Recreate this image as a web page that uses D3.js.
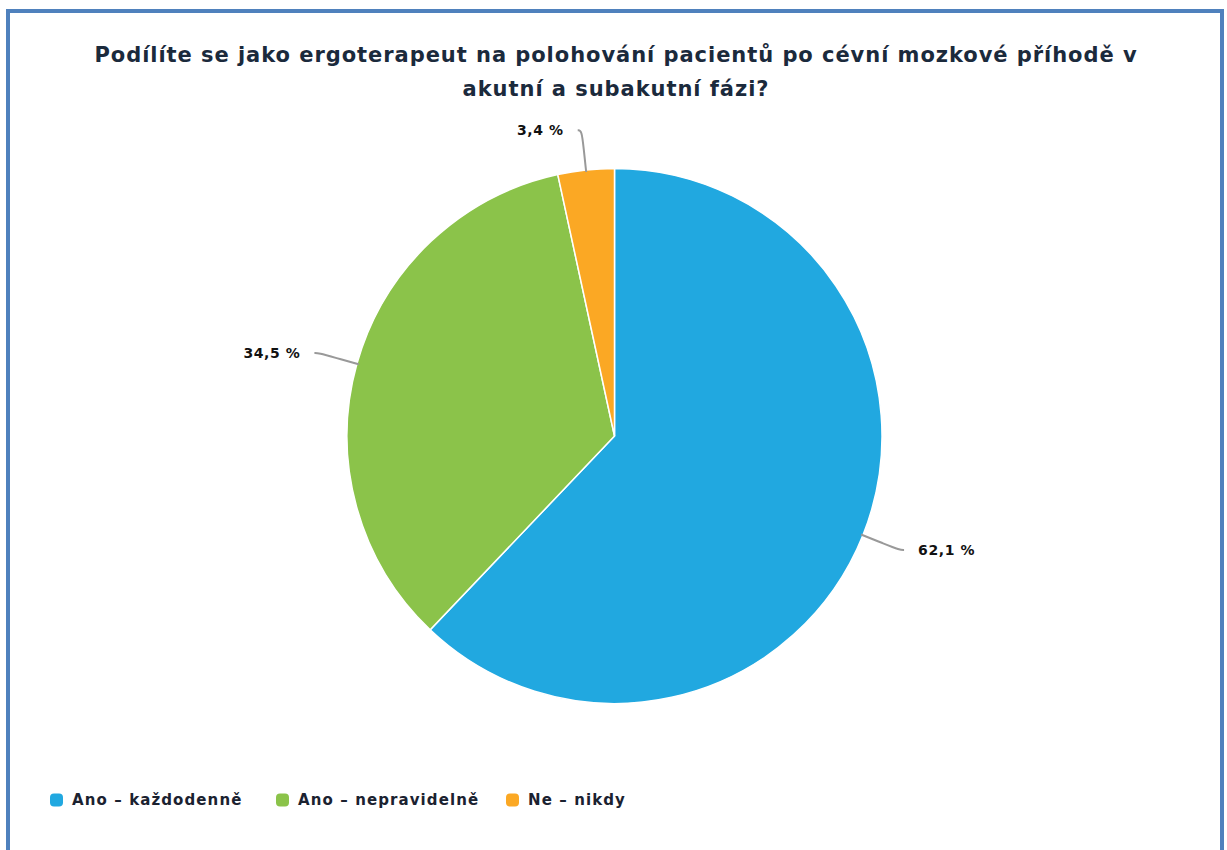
<!DOCTYPE html>
<html>
<head>
<meta charset="utf-8">
<script src="https://cdn.jsdelivr.net/npm/d3@7/dist/d3.min.js"></script>
<style>
  html, body { margin: 0; padding: 0; background: #fff; }
  svg { display: block; }
</style>
</head>
<body>
<svg id="chart" width="1227" height="850"></svg>
<script>
// Survey answers and their shares (percent)
const categories = ["Ano – každodenně", "Ano – nepravidelně", "Ne – nikdy"];
const values = [62.1, 34.5, 3.4];
const valueLabels = ["62,1 %", "34,5 %", "3,4 %"];
const colors = ["#21A8E0", "#8BC34A", "#FBA824"];
const titleLines = [
  "Podílíte se jako ergoterapeut na polohování pacientů po cévní mozkové příhodě v",
  "akutní a subakutní fázi?"
];

const W = 1227, H = 850;
const svg = d3.select("#chart");
const font = "'DejaVu Sans', Verdana, sans-serif";

// Frame
svg.append("rect")
  .attr("x", 8).attr("y", 11)
  .attr("width", 1214).attr("height", 860)
  .attr("fill", "none")
  .attr("stroke", "#4F81BD")
  .attr("stroke-width", 4);

// Title
svg.append("g").selectAll("text")
  .data(titleLines)
  .join("text")
  .attr("x", 616)
  .attr("y", (d, i) => 62 + i * 34)
  .attr("text-anchor", "middle")
  .attr("font-family", font)
  .attr("font-weight", "bold")
  .attr("font-size", 21)
  .attr("letter-spacing", 0.95)
  .attr("fill", "#1B2A3C")
  .text(d => d);

// Pie
const cx = 614.5, cy = 436, r = 267.5;
const pie = d3.pie().sort(null).value(d => d)(values);
const arc = d3.arc().innerRadius(0).outerRadius(r);
const g = svg.append("g").attr("transform", `translate(${cx},${cy})`);

g.selectAll("path.slice")
  .data(pie)
  .join("path")
  .attr("class", "slice")
  .attr("d", arc)
  .attr("fill", (d, i) => colors[i])
  .attr("stroke", "#fff")
  .attr("stroke-width", 1.5);

// Leader lines and value labels
const at = (a, rad) => [rad * Math.sin(a), -rad * Math.cos(a)];
const mid = d => (d.startAngle + d.endAngle) / 2;
const curve = d3.line().curve(d3.curveBasis);

g.selectAll("path.leader")
  .data(pie)
  .join("path")
  .attr("class", "leader")
  .attr("d", d => {
    const a = mid(d);
    const p0 = at(a, r - 2);
    const p1 = at(a, r + 22);
    const p2 = at(a, r + 40);
    const side = Math.sin(a) >= 0 ? 1 : -1;
    const p3 = [p2[0] + side * 4, p2[1]];
    return curve([p0, p1, p2, p3]);
  })
  .attr("fill", "none")
  .attr("stroke", "#999")
  .attr("stroke-width", 2);

g.selectAll("text.value")
  .data(pie)
  .join("text")
  .attr("class", "value")
  .attr("x", d => {
    const a = mid(d);
    const side = Math.sin(a) >= 0 ? 1 : -1;
    return at(a, r + 40)[0] + side * 18;
  })
  .attr("y", d => at(mid(d), r + 40)[1])
  .attr("dy", "0.35em")
  .attr("text-anchor", d => Math.sin(mid(d)) >= 0 ? "start" : "end")
  .attr("font-family", font)
  .attr("font-weight", "bold")
  .attr("font-size", 14)
  .attr("letter-spacing", 0.6)
  .attr("fill", "#111")
  .text((d, i) => valueLabels[i]);

// Legend
const legendX = [50, 276, 506];
const legend = svg.append("g").selectAll("g")
  .data(categories)
  .join("g")
  .attr("transform", (d, i) => `translate(${legendX[i]},800)`);

legend.append("rect")
  .attr("x", 0).attr("y", -6.5)
  .attr("width", 13).attr("height", 13)
  .attr("rx", 4)
  .attr("fill", (d, i) => colors[i]);

legend.append("text")
  .attr("x", 22)
  .attr("dy", "0.35em")
  .attr("font-family", font)
  .attr("font-weight", "bold")
  .attr("font-size", 15)
  .attr("letter-spacing", 1.1)
  .attr("fill", "#1B2230")
  .text(d => d);
</script>
</body>
</html>
